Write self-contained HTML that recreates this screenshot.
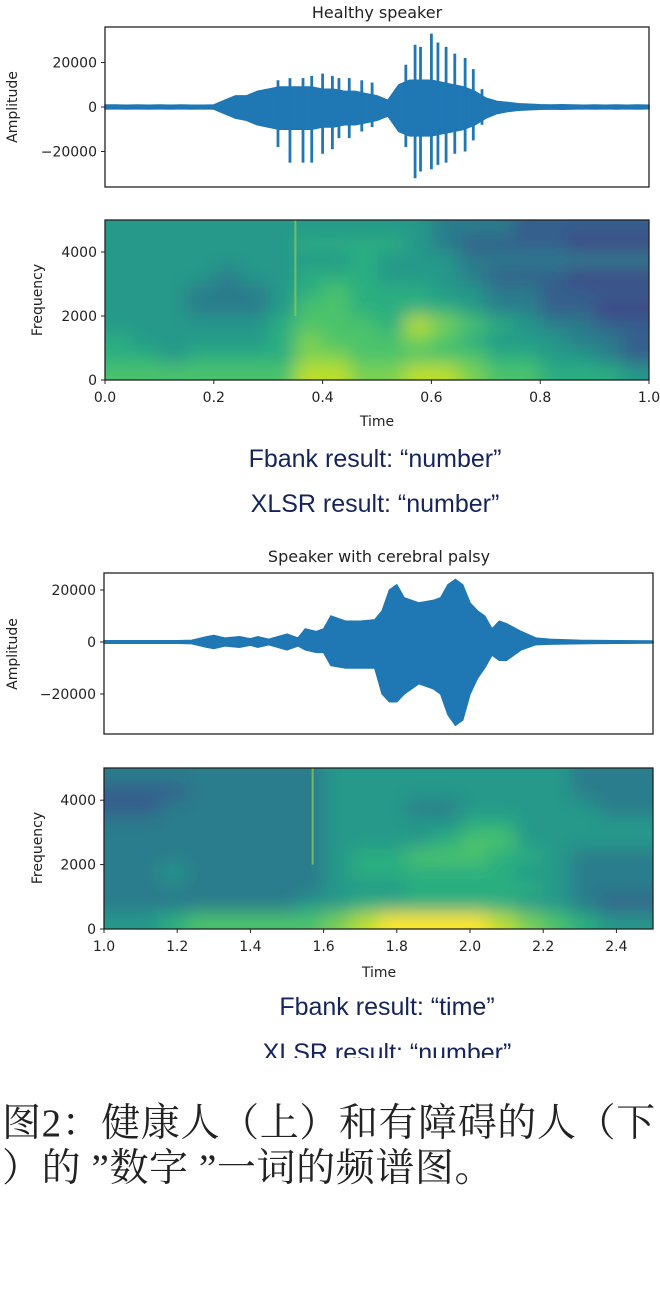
<!DOCTYPE html>
<html><head><meta charset="utf-8">
<style>
html,body{margin:0;padding:0;background:#fff;}
svg{display:block;}
.tk{font-family:"DejaVu Sans","Liberation Sans",sans-serif;font-size:14px;fill:#222;}
.ttl{font-family:"DejaVu Sans","Liberation Sans",sans-serif;font-size:16px;fill:#222;}
.res{font-family:"Liberation Sans",sans-serif;font-size:25px;fill:#15245a;}
.cap{font-family:"Liberation Serif","Noto Serif CJK SC",serif;font-size:39px;fill:#222;letter-spacing:0.6px;}
</style></head>
<body>
<svg id="fig" width="660" height="1312" viewBox="0 0 660 1312" xmlns="http://www.w3.org/2000/svg">
<defs>
<filter id="blur" x="-5%" y="-5%" width="110%" height="110%"><feGaussianBlur stdDeviation="9"/></filter>
<clipPath id="clipH"><rect x="105" y="220" width="544" height="160"/></clipPath>
<clipPath id="clipC"><rect x="104" y="768" width="549" height="161"/></clipPath>
</defs>
<text class="ttl" x="377" y="18" text-anchor="middle">Healthy speaker</text>
<text class="ttl" x="379" y="562" text-anchor="middle">Speaker with cerebral palsy</text>
<text class="tk" transform="translate(17,107) rotate(-90)" text-anchor="middle">Amplitude</text>
<text class="tk" transform="translate(42,300) rotate(-90)" text-anchor="middle">Frequency</text>
<text class="tk" x="377" y="426" text-anchor="middle">Time</text>
<text class="tk" transform="translate(17,654) rotate(-90)" text-anchor="middle">Amplitude</text>
<text class="tk" transform="translate(42,848) rotate(-90)" text-anchor="middle">Frequency</text>
<text class="tk" x="379" y="977" text-anchor="middle">Time</text>
<text class="res" x="375" y="467" text-anchor="middle">Fbank result: “number”</text>
<text class="res" x="375" y="512" text-anchor="middle">XLSR result: “number”</text>
<text class="res" x="387" y="1015" text-anchor="middle">Fbank result: “time”</text>
<text class="res" x="387" y="1061" text-anchor="middle">XLSR result: “number”</text>
<rect x="0" y="1058" width="660" height="20" fill="#fff"/>
<text class="cap" x="2" y="1136">图2：健康人（上）和有障碍的人（下</text>
<text class="cap" x="2" y="1181">）的 ”数字 ”一词的频谱图。</text>
</svg>
<script>
// ---- data ----
var hTimes=[0,0.02,0.04,0.06,0.08,0.1,0.12,0.14,0.16,0.18,0.2,0.22,0.24,0.26,0.28,0.3,0.32,0.34,0.36,0.38,0.4,0.42,0.44,0.46,0.48,0.5,0.52,0.54,0.56,0.58,0.6,0.62,0.64,0.66,0.68,0.7,0.72,0.74,0.76,0.78,0.8,0.82,0.84,0.86,0.88,0.9,0.92,0.94,0.96,0.98,1.0];
var hUpper=[900,900,800,900,800,900,800,900,800,800,900,3000,5000,5000,7000,8000,9000,9000,9000,9000,8000,8000,7000,7000,6000,5000,3000,10000,12000,12000,12000,11000,10000,9000,7000,4000,2500,2000,1500,1200,1000,900,1000,900,800,900,800,900,800,900,800];
var hLower=[-900,-800,-900,-800,-900,-800,-900,-800,-900,-800,-900,-3000,-5000,-6000,-8000,-9000,-10000,-10000,-10000,-10000,-9000,-9000,-8000,-8000,-7000,-6000,-4000,-11000,-13000,-13000,-13000,-12000,-11000,-10000,-8000,-5000,-3000,-2000,-1500,-1200,-1000,-900,-1000,-900,-800,-900,-800,-900,-800,-900,-800];
var hSpikeT=[0.318,0.34,0.364,0.38,0.40,0.418,0.43,0.449,0.472,0.491,0.553,0.57,0.58,0.60,0.612,0.627,0.643,0.662,0.677,0.693];
var hSpikeHi=[12000,13000,13000,14000,15000,14000,13000,13000,12000,11000,19000,28000,27000,33000,29000,27000,24000,22000,17000,8000];
var hSpikeLo=[-18000,-25000,-25000,-25000,-21000,-19000,-14000,-14000,-11000,-9000,-18000,-32000,-29000,-28000,-26000,-25000,-21000,-20000,-15000,-8000];
var cTimes=[1.0,1.1,1.2,1.24,1.28,1.3,1.33,1.37,1.4,1.42,1.45,1.5,1.53,1.55,1.58,1.6,1.62,1.66,1.7,1.74,1.76,1.78,1.8,1.82,1.86,1.9,1.92,1.94,1.96,1.98,2.0,2.02,2.04,2.06,2.08,2.1,2.14,2.18,2.22,2.3,2.4,2.5];
var cUpper=[500,500,500,600,2000,2500,1500,2000,1200,2000,1000,3000,1500,5000,4000,5000,10000,8000,8000,8500,12000,20000,22000,17000,15000,16000,17000,22000,24000,22000,15000,12000,10000,5000,8000,7000,4000,1500,1000,600,500,400];
var cLower=[-500,-500,-500,-600,-2000,-2500,-1500,-2000,-1200,-2000,-1000,-3000,-1500,-3000,-4000,-4000,-9000,-10000,-10000,-10000,-20000,-23000,-23000,-20000,-16000,-18000,-20000,-28000,-32000,-30000,-20000,-14000,-10000,-5000,-7000,-7000,-3000,-1000,-800,-600,-500,-400];
var hTickX=[0,0.2,0.4,0.6,0.8,1.0];
var hTickXLabels=["0.0","0.2","0.4","0.6","0.8","1.0"];
var cTickX=[1.0,1.2,1.4,1.6,1.8,2.0,2.2,2.4];
var cTickXLabels=["1.0","1.2","1.4","1.6","1.8","2.0","2.2","2.4"];
var ampTicks=[20000,0,-20000];
var ampTickLabels=["20000","0","\u221220000"];
var freqTicks=[0,2000,4000];
var freqTickLabels=["0","2000","4000"];
// spectrogram levels (rows top=5000Hz -> bottom=0Hz), 0..10
var hSpec=[
[5,5,5,5,5,5,5,5,5,5,5,5,4,4,4,3,3,3,3,3],
[5,5,5,5,5,5,5,6,6,6,6,5,4,3,3,3,3,2,2,2],
[5,5,5,5,5,5,5,5,5,6,5,5,5,4,4,4,4,4,4,4],
[5,5,5,5,4,5,5,6,6,6,5,5,5,4,3,3,3,2,2,2],
[5,5,5,4,4,4,5,6,7,6,6,6,5,5,4,4,3,3,3,3],
[5,5,5,4,4,4,5,7,7,6,6,6,6,5,4,4,3,3,2,2],
[5,5,5,5,5,5,6,7,7,7,6,9,8,7,6,5,4,4,3,3],
[6,5,5,5,5,5,6,8,7,7,7,8,7,6,5,5,5,4,4,3],
[6,6,5,6,6,6,6,8,8,7,7,7,7,7,6,6,5,5,4,3],
[7,7,7,7,7,7,7,9,9,8,8,9,9,8,7,7,6,6,6,5]];
var cSpec=[
[4,4,4,4,4,4,4,4,5,5,5,5,5,5,5,5,5,4,4,4],
[3,3,3,4,4,4,4,4,5,5,5,5,5,5,5,5,5,4,4,4],
[3,3,4,4,4,4,4,4,5,5,5,4,4,5,5,5,5,5,4,4],
[4,4,4,4,4,4,4,4,5,5,5,5,5,6,6,5,5,5,5,5],
[4,4,4,4,4,4,4,4,5,5,5,5,6,7,7,5,5,5,5,5],
[4,4,4,4,4,4,4,4,5,6,6,7,7,7,6,6,5,4,4,4],
[4,4,5,4,4,4,4,4,5,6,6,6,6,6,6,5,5,4,4,4],
[4,4,4,4,4,4,4,4,5,5,5,6,6,6,6,6,5,4,4,4],
[4,4,4,4,4,4,4,5,5,6,6,6,6,6,6,5,5,4,3,3],
[5,5,6,7,7,7,7,7,8,9,10,10,10,10,9,8,7,6,5,5]];
var viridis=["#440154","#482475","#414487","#355f8d","#2a7d8c","#25998a","#2aae80","#4cc26c","#7ad151","#bddf26","#fde725"];

// ---- scales ----
var NS="http://www.w3.org/2000/svg";
var svg=document.getElementById("fig");
function mk(tag,attrs,parent){var e=document.createElementNS(NS,tag);for(var k in attrs)e.setAttribute(k,attrs[k]);(parent||svg).appendChild(e);return e;}
var P={
 hW:{x0:105,x1:649,y0:27,y1:187,t0:0,t1:1,zero:107,k:44.5/20000},
 hS:{x0:105,x1:649,y0:220,y1:380,t0:0,t1:1,fmax:5000},
 cW:{x0:104,x1:653,y0:573,y1:734,t0:1,t1:2.5,zero:642,k:52/20000},
 cS:{x0:104,x1:653,y0:768,y1:929,t0:1,t1:2.5,fmax:5000}
};
function sx(p,t){return p.x0+(t-p.t0)/(p.t1-p.t0)*(p.x1-p.x0);}
function sa(p,a){return p.zero-a*p.k;}
function sf(p,f){return p.y1-f/p.fmax*(p.y1-p.y0);}

// ---- waveforms ----
function wave(p,times,up,lo,name){
 var pts=[];
 for(var i=0;i<times.length;i++)pts.push(sx(p,times[i]).toFixed(1)+","+sa(p,up[i]).toFixed(1));
 for(var j=times.length-1;j>=0;j--)pts.push(sx(p,times[j]).toFixed(1)+","+sa(p,lo[j]).toFixed(1));
 var poly=mk("polygon",{points:pts.join(" "),fill:"#1f77b4",stroke:"#1f77b4","stroke-width":"1.5"});
 
 
}
wave(P.hW,hTimes,hUpper,hLower,"healthy-waveform");
for(var s=0;s<hSpikeT.length;s++){
 var ln=mk("line",{x1:sx(P.hW,hSpikeT[s]),x2:sx(P.hW,hSpikeT[s]),y1:sa(P.hW,hSpikeHi[s]),y2:sa(P.hW,hSpikeLo[s]),stroke:"#1f77b4","stroke-width":"2.8"});
 
 
}
wave(P.cW,cTimes,cUpper,cLower,"cp-waveform");

// ---- spectrograms ----
function spec(p,grid,clip,name,lineT){
 var bg=mk("rect",{x:p.x0,y:p.y0,width:p.x1-p.x0,height:p.y1-p.y0,fill:viridis[5]});
 
 
 var cg=mk("g",{"clip-path":"url(#"+clip+")"});
 
 
 var g=mk("g",{filter:"url(#blur)"},cg);
 var rows=grid.length,cols=grid[0].length;
 var dt=(p.t1-p.t0)/cols,df=p.fmax/rows;
 for(var r=0;r<rows;r++)for(var c=0;c<cols;c++){
  var t=p.t0+c*dt,f=p.fmax-(r)*df;
  var xa=sx(p,t),xb=sx(p,t+dt),ya=sf(p,f),yb=sf(p,f-df);
  if(c===0)xa-=20; if(c===cols-1)xb+=20; if(r===0)ya-=20; if(r===rows-1)yb+=20;
  var cell=mk("rect",{x:xa.toFixed(1),y:ya.toFixed(1),width:(xb-xa+0.5).toFixed(1),height:(yb-ya+0.5).toFixed(1),fill:viridis[grid[r][c]]},g);
  
  
 }
 var vl=mk("line",{x1:sx(p,lineT),x2:sx(p,lineT),y1:p.y0,y2:p.y0+(p.y1-p.y0)*0.6,stroke:"#8fcf55","stroke-width":"2",opacity:"0.7"},cg);
 
 
}
spec(P.hS,hSpec,"clipH","healthy-spectrogram",0.35);
spec(P.cS,cSpec,"clipC","cp-spectrogram",1.57);

// ---- frames & ticks ----
function frame(p,name){
 var r=mk("rect",{x:p.x0,y:p.y0,width:p.x1-p.x0,height:p.y1-p.y0,fill:"none",stroke:"#222","stroke-width":"1.3"});
 
 
}
frame(P.hW,"healthy-waveform-frame");frame(P.hS,"healthy-spectrogram-frame");
frame(P.cW,"cp-waveform-frame");frame(P.cS,"cp-spectrogram-frame");
function yTicks(p,vals,labels,fn,name){
 for(var i=0;i<vals.length;i++){
  var y=fn(p,vals[i]);
  var tl=mk("line",{x1:p.x0-4,x2:p.x0,y1:y,y2:y,stroke:"#222","stroke-width":"1"});
  
  
  var tx=mk("text",{x:p.x0-8,y:y+5,"text-anchor":"end","class":"tk"});
  tx.textContent=labels[i];
  
  
 }
}
yTicks(P.hW,ampTicks,ampTickLabels,sa,"healthy-amplitude");
yTicks(P.cW,ampTicks,ampTickLabels,sa,"cp-amplitude");
yTicks(P.hS,freqTicks,freqTickLabels,sf,"healthy-frequency");
yTicks(P.cS,freqTicks,freqTickLabels,sf,"cp-frequency");
function xTicks(p,vals,labels,name){
 for(var i=0;i<vals.length;i++){
  var x=sx(p,vals[i]);
  var tl=mk("line",{x1:x,x2:x,y1:p.y1,y2:p.y1+4,stroke:"#222","stroke-width":"1"});
  
  
  var tx=mk("text",{x:x,y:p.y1+22,"text-anchor":"middle","class":"tk"});
  tx.textContent=labels[i];
  
  
 }
}
xTicks(P.hS,hTickX,hTickXLabels,"healthy-time");
xTicks(P.cS,cTickX,cTickXLabels,"cp-time");
</script>
</body></html>
